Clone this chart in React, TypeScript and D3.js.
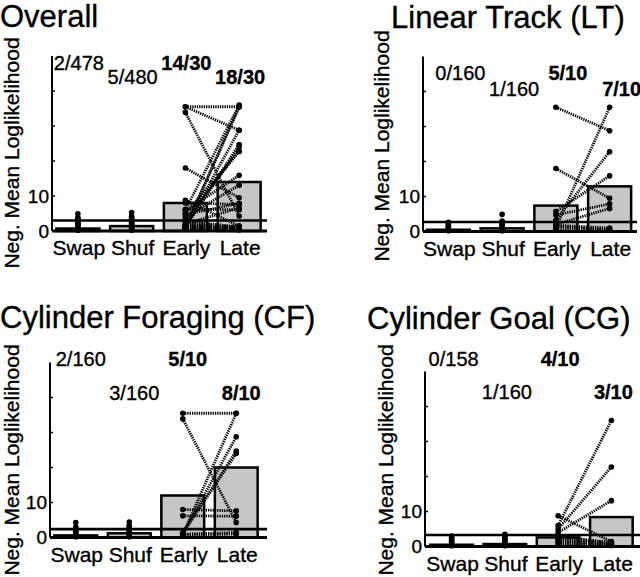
import React from "react";
import * as d3 from "d3";

// ---------- data ----------
const categories = ["Swap", "Shuf", "Early", "Late"];
const panelTitles = ["Overall", "Linear Track (LT)", "Cylinder Foraging (CF)", "Cylinder Goal (CG)"];
const yTicks = [0, 10, 20, 30, 40, 50];
const yTickLabels = ["0", "10"];
const yAxisLabel = "Neg. Mean Loglikelihood";

const overallBars = [0.7, 1.4, 8.0, 14.0];
const ltBars = [0.5, 0.9, 7.4, 12.9];
const cfBars = [0.6, 1.2, 12.0, 20.0];
const cgBars = [0.5, 0.7, 2.6, 8.4];

const overallFractions = ["2/478", "5/480", "14/30", "18/30"];
const ltFractions = ["0/160", "1/160", "5/10", "7/10"];
const cfFractions = ["2/160", "3/160", "5/10", "8/10"];
const cgFractions = ["0/158", "1/160", "4/10", "3/10"];

const thresholds = [3.0, 2.7, 2.4, 3.3];

const overallSwapDots = [0.2, 0.5, 0.8, 1.1, 1.4, 1.7, 2.0, 2.3, 2.6, 2.9, 3.2, 3.5, 3.8, 4.9];
const overallShufDots = [0.2, 0.5, 0.8, 1.1, 1.4, 1.7, 2.0, 2.3, 2.6, 2.9, 3.2, 3.5, 3.8, 4.2, 5.3];
const ltSwapDots = [0.2, 0.6, 1.0, 1.4, 1.8, 2.2, 2.6];
const ltShufDots = [0.2, 0.6, 1.0, 1.4, 1.8, 2.2, 2.6, 3.0, 4.9];
const cfSwapDots = [0.2, 0.6, 1.0, 1.4, 1.8, 2.2, 2.6, 3.0, 4.3];
const cfShufDots = [0.2, 0.6, 1.0, 1.4, 1.8, 2.2, 2.6, 3.0, 3.4, 4.4];
const cgSwapDots = [0.2, 0.6, 1.0, 1.4, 1.8, 2.2, 2.6, 3.0];
const cgShufDots = [0.2, 0.6, 1.0, 1.4, 1.8, 2.2, 2.6, 3.0, 3.5];

const ltEarly = [35.5, 18.0, 1.0, 3.3, 5.7, 4.7, 2.0, 1.8, 1.5, 0.8];
const ltLate = [28.8, 9.5, 35.5, 22.8, 15.9, 7.9, 6.6, 1.0, 0.5, 0.5];
const cfEarly = [35.5, 33.9, 0.8, 1.0, 1.3, 1.2, 8.0, 6.2, 1.0, 0.6];
const cfLate = [35.5, 4.3, 35.5, 28.8, 24.7, 24.0, 7.6, 6.1, 1.4, 1.0];
const cgEarly = [6.0, 5.0, 4.0, 8.8, 3.0, 2.0, 1.5, 1.0, 0.5, 2.5];
const cgLate = [36.0, 22.7, 13.1, 1.4, 1.0, 0.5, 0.8, 0.3, 0.6, 1.2];
const overallEarly = [...ltEarly, ...cfEarly, ...cgEarly];
const overallLate = [...ltLate, ...cfLate, ...cgLate];

const panels = [
  { title: panelTitles[0], bars: overallBars, fractions: overallFractions, threshold: thresholds[0], swap: overallSwapDots, shuf: overallShufDots, early: overallEarly, late: overallLate },
  { title: panelTitles[1], bars: ltBars, fractions: ltFractions, threshold: thresholds[1], swap: ltSwapDots, shuf: ltShufDots, early: ltEarly, late: ltLate },
  { title: panelTitles[2], bars: cfBars, fractions: cfFractions, threshold: thresholds[2], swap: cfSwapDots, shuf: cfShufDots, early: cfEarly, late: cfLate },
  { title: panelTitles[3], bars: cgBars, fractions: cgFractions, threshold: thresholds[3], swap: cgSwapDots, shuf: cgShufDots, early: cgEarly, late: cgLate },
];

// ---------- layout ----------
const layouts = [
  { xRange: [51, 266], axisX: 52, axisEnd: 267, y0: 231, titleX: 0, titleY: 27, ylabX: 19, ylabY: 153, fracY: [70, 84], fracDx: 1 },
  { xRange: [421.5, 636.5], axisX: 423, axisEnd: 637, y0: 231.5, titleX: 391, titleY: 28, ylabX: 389, ylabY: 146, fracY: [80, 96], fracDx: 12 },
  { xRange: [49, 263], axisX: 50, axisEnd: 267, y0: 537.5, titleX: 0, titleY: 328, ylabX: 19, ylabY: 460, fracY: [366, 400], fracDx: 5 },
  { xRange: [425, 638], axisX: 425, axisEnd: 640, y0: 546.5, titleX: 367, titleY: 329, ylabX: 393, ylabY: 460, fracY: [366, 399], fracDx: 2 },
];

const FONT = "'Liberation Sans', Arial, Helvetica, sans-serif";
const PX_PER_UNIT = 3.5;
const TEXT_STROKE = { stroke: "#000", strokeWidth: 0.35 };

function Panel({ data, layout }: any) {
  const x = d3.scaleLinear().domain([0.5, 4.5]).range(layout.xRange);
  const y = d3.scaleLinear().domain([0, 50]).range([layout.y0, layout.y0 - 50 * PX_PER_UNIT]);
  const unit = x(2) - x(1);
  const bw = unit * 0.8;
  const dotR = 2.8;
  return (
    <g fontFamily={FONT}>
      <text x={layout.titleX} y={layout.titleY} fontSize={31} {...TEXT_STROKE}>{data.title}</text>
      <text
        transform={`translate(${layout.ylabX},${layout.ylabY}) rotate(-90)`}
        textAnchor="middle"
        fontSize={21}
        {...TEXT_STROKE}
      >
        {yAxisLabel}
      </text>
      {/* bars */}
      {data.bars.map((v: number, i: number) => (
        <rect
          key={"b" + i}
          x={x(i + 1) - bw / 2}
          y={y(v)}
          width={bw}
          height={y(0) - y(v)}
          fill="#c6c6c6"
          stroke="#000"
          strokeWidth={2.5}
        />
      ))}
      {/* threshold line */}
      <line x1={layout.axisX} x2={layout.axisEnd} y1={y(data.threshold)} y2={y(data.threshold)} stroke="#000" strokeWidth={2.6} />
      {/* axes */}
      <line x1={layout.axisX} x2={layout.axisEnd} y1={y(0)} y2={y(0)} stroke="#000" strokeWidth={3} />
      <line x1={layout.axisX} x2={layout.axisX} y1={y(0)} y2={y(50)} stroke="#000" strokeWidth={2} />
      {yTicks.slice(1, 5).map((t) => (
        <line key={"t" + t} x1={layout.axisX} x2={layout.axisX + 3} y1={y(t)} y2={y(t)} stroke="#000" strokeWidth={1.5} />
      ))}
      {yTickLabels.map((lab, i) => (
        <text key={"yl" + i} x={layout.axisX - 3} y={y(yTicks[i])} dy="0.36em" textAnchor="end" fontSize={19} {...TEXT_STROKE}>
          {lab}
        </text>
      ))}
      {categories.map((c, i) => (
        <text key={"xl" + i} x={x(i + 1) + 1} y={layout.y0 + 24} textAnchor="middle" fontSize={21} {...TEXT_STROKE}>
          {c}
        </text>
      ))}
      {/* pair lines */}
      {data.early.map((e: number, i: number) => (
        <line
          key={"pl" + i}
          x1={x(3)}
          y1={y(e)}
          x2={x(4)}
          y2={y(data.late[i])}
          stroke="#000"
          strokeWidth={2.8}
          strokeDasharray="1.3,1"
        />
      ))}
      {/* dots */}
      {data.swap.map((v: number, i: number) => (
        <circle key={"sw" + i} cx={x(1)} cy={y(v)} r={dotR} fill="#000" />
      ))}
      {data.shuf.map((v: number, i: number) => (
        <circle key={"sh" + i} cx={x(2)} cy={y(v)} r={dotR} fill="#000" />
      ))}
      {data.early.map((v: number, i: number) => (
        <circle key={"e" + i} cx={x(3)} cy={y(v)} r={dotR} fill="#000" />
      ))}
      {data.late.map((v: number, i: number) => (
        <circle key={"l" + i} cx={x(4)} cy={y(v)} r={dotR} fill="#000" />
      ))}
      {/* fraction labels */}
      {data.fractions.map((f: string, i: number) => (
        <text
          key={"f" + i}
          x={x(i + 1) + layout.fracDx}
          y={layout.fracY[i % 2]}
          textAnchor="middle"
          fontSize={20}
          fontWeight={i >= 2 ? "bold" : "normal"}
          {...TEXT_STROKE}
        >
          {f}
        </text>
      ))}
    </g>
  );
}

export default function App() {
  return (
    <svg
      width={640}
      height={577}
      style={{ position: "absolute", left: 0, top: 0, background: "#fff" }}
    >
      <rect width={640} height={577} fill="#fff" />
      {panels.map((p, i) => (
        <Panel key={i} data={p} layout={layouts[i]} />
      ))}
    </svg>
  );
}
